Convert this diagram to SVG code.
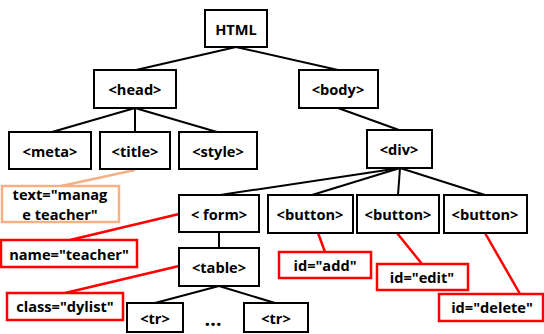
<svg xmlns="http://www.w3.org/2000/svg" width="544" height="334" viewBox="0 0 544 334">
  <style>
    .node rect { fill: #ffffff; stroke: #000000; stroke-width: 2; }
    .attr rect { fill: #ffffff; stroke: #ff0000; stroke-width: 2.5; }
    .note rect { fill: #ffffff; stroke: #f4b183; stroke-width: 2.5; }
    text { font-family: "Open Sans", "Noto Sans", "DejaVu Sans", sans-serif; font-weight: bold; font-size: 14.6px; fill: #000000; text-anchor: middle; dominant-baseline: central; }
    text.dots { font-size: 20px; }
    .edges line { stroke: #000000; stroke-width: 2; }
    .links line { stroke: #ff0000; stroke-width: 2.5; }
    .links line.soft { stroke: #f4b183; }
  </style>

  <rect width="544" height="334" fill="#ffffff"/>

  <!-- tree edges -->
  <g id="connectors">
    <g class="edges">
      <line x1="236" y1="47" x2="136" y2="70"/>
      <line x1="236" y1="47" x2="338" y2="70"/>
      <line x1="135" y1="108" x2="52" y2="132"/>
      <line x1="135" y1="108" x2="135" y2="132"/>
      <line x1="135" y1="108" x2="217" y2="132"/>
      <line x1="338" y1="108" x2="399" y2="130"/>
      <line x1="400" y1="168" x2="220" y2="195"/>
      <line x1="400" y1="168" x2="312" y2="195"/>
      <line x1="400" y1="168" x2="398" y2="195"/>
      <line x1="400" y1="168" x2="485" y2="195"/>
      <line x1="219" y1="232" x2="219" y2="248"/>
      <line x1="219" y1="286" x2="155" y2="303"/>
      <line x1="219" y1="286" x2="275" y2="303"/>
    </g>
    <!-- attribute callout lines -->
    <g class="links">
      <line class="soft" x1="135" y1="170" x2="61" y2="186"/>
      <line x1="179" y1="214" x2="70" y2="240"/>
      <line x1="179" y1="266" x2="65" y2="293"/>
      <line x1="318" y1="233" x2="325" y2="252"/>
      <line x1="397" y1="233" x2="422" y2="264"/>
      <line x1="485" y1="233" x2="520" y2="294"/>
    </g>
  </g>

  <!-- element nodes -->
  <g id="html" class="node"><rect x="205" y="10" width="62" height="37"/><text x="236" y="29">HTML</text></g>
  <g id="head" class="node"><rect x="94" y="70" width="82" height="38"/><text x="135" y="89">&lt;head&gt;</text></g>
  <g id="body" class="node"><rect x="299" y="70" width="79" height="38"/><text x="338" y="89">&lt;body&gt;</text></g>
  <g id="meta" class="node"><rect x="9" y="132" width="82" height="37"/><text x="50" y="151">&lt;meta&gt;</text></g>
  <g id="title" class="node"><rect x="100" y="132" width="70" height="37"/><text x="135" y="151">&lt;title&gt;</text></g>
  <g id="style" class="node"><rect x="179" y="132" width="78" height="37"/><text x="218" y="151">&lt;style&gt;</text></g>
  <g id="div" class="node"><rect x="367" y="130" width="65" height="38"/><text x="399" y="149">&lt;div&gt;</text></g>
  <g id="form" class="node"><rect x="179" y="195" width="80" height="37"/><text x="219" y="214">&lt; form&gt;</text></g>
  <g id="button-add" class="node"><rect x="268" y="195" width="85" height="38"/><text x="310" y="214">&lt;button&gt;</text></g>
  <g id="button-edit" class="node"><rect x="357" y="195" width="82" height="38"/><text x="398" y="214">&lt;button&gt;</text></g>
  <g id="button-delete" class="node"><rect x="444" y="195" width="83" height="38"/><text x="485" y="214">&lt;button&gt;</text></g>
  <g id="table" class="node"><rect x="179" y="248" width="80" height="38"/><text x="219" y="267">&lt;table&gt;</text></g>
  <g id="tr-first" class="node"><rect x="127" y="303" width="56" height="29"/><text x="155" y="318">&lt;tr&gt;</text></g>
  <g id="tr-last" class="node"><rect x="244" y="303" width="64" height="29"/><text x="276" y="318">&lt;tr&gt;</text></g>
  <g id="ellipsis"><text class="dots" x="213" y="318">…</text></g>

  <!-- attribute notes -->
  <g id="note-text" class="note"><rect x="2" y="186" width="117" height="36"/><text x="60" y="194">text="manag</text><text x="60" y="214">e teacher"</text></g>
  <g id="attr-name" class="attr"><rect x="1" y="240" width="136" height="27"/><text x="69" y="254">name="teacher"</text></g>
  <g id="attr-class" class="attr"><rect x="7" y="293" width="116" height="27"/><text x="65" y="306">class="dylist"</text></g>
  <g id="attr-add" class="attr"><rect x="279" y="252" width="92" height="26"/><text x="325" y="265">id="add"</text></g>
  <g id="attr-edit" class="attr"><rect x="377" y="264" width="91" height="26"/><text x="422" y="277">id="edit"</text></g>
  <g id="attr-delete" class="attr"><rect x="439" y="294" width="104" height="27"/><text x="492" y="307">id="delete"</text></g>
</svg>
